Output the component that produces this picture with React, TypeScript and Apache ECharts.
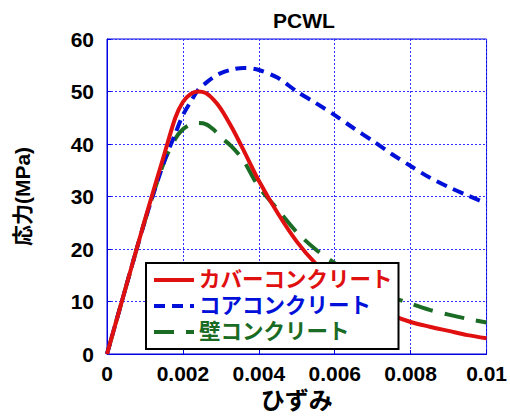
import React, { useEffect, useRef } from "react";
import * as echarts from "echarts";

const strain = [0, 0.0005, 0.001, 0.0015, 0.0018, 0.002, 0.0022, 0.0024, 0.0026, 0.0028, 0.003, 0.0033, 0.0036, 0.004, 0.0045, 0.005, 0.0055, 0.006, 0.0065, 0.007, 0.0075, 0.008, 0.0085, 0.009, 0.0095, 0.01];
const cover = [0, 12.8, 25.6, 37.8, 45.0, 48.0, 49.5, 50, 49.7, 48.5, 46.7, 43.0, 38.8, 33.0, 26.8, 21.4, 17.2, 14.0, 11.3, 9.1, 7.4, 6.1, 5.2, 4.4, 3.6, 3.0];
const core = [0, 12.8, 25.4, 36.5, 42, 45.5, 48, 50.3, 51.6, 52.7, 53.5, 54.2, 54.5, 54.1, 52.6, 50, 47.8, 45.5, 43, 40.6, 38.1, 35.8, 33.6, 31.8, 30.2, 28.7];
const wall = [0, 12.8, 25.4, 36.5, 41, 42.8, 43.7, 44, 43.8, 42.8, 41.3, 39.4, 36.8, 31.8, 27.5, 23.2, 19.9, 17.3, 15.1, 12.9, 10.9, 9.6, 8.4, 7.5, 6.7, 6.0];

const seriesNames = ["カバーコンクリート", "コアコンクリート", "壁コンクリート"];
const seriesColors = ["#e01010", "#0010d8", "#1a6b24"];
const xTicks = [0, 0.002, 0.004, 0.006, 0.008, 0.01];
const xTickLabels = ["0", "0.002", "0.004", "0.006", "0.008", "0.01"];

const latin = "'Liberation Sans', Arial, sans-serif";
const cjk = "'Liberation Sans', 'Noto Sans CJK JP', sans-serif";

export default function App() {
  const ref = useRef<HTMLDivElement>(null);
  useEffect(() => {
    if (!ref.current) return;
    const chart = echarts.init(ref.current, undefined, { renderer: "svg" });
    const values = [cover, core, wall];
    const dashes: any[] = ["solid", [11, 7], [20, 12]];
    chart.setOption({
      animation: false,
      backgroundColor: "#ffffff",
      title: {
        text: "PCWL",
        left: 299,
        textAlign: "center",
        top: 5,
        textStyle: { fontFamily: latin, fontWeight: "bold", fontSize: 21, color: "#000" },
      },
      grid: {
        left: 107,
        right: 19,
        top: 39,
        bottom: 64,
        show: true,
        borderColor: "#0000e0",
        borderWidth: 1,
      },
      legend: {
        orient: "vertical",
        left: 146,
        top: 263,
        padding: [6, 6, 6, 6],
        itemGap: 4,
        itemWidth: 40,
        itemHeight: 14,
        itemStyle: { opacity: 0 },
        lineStyle: { width: 4 },
        backgroundColor: "#ffffff",
        borderColor: "#000000",
        borderWidth: 2,
        borderRadius: 0,
        textStyle: { fontFamily: cjk, fontWeight: "bold", fontSize: 21.5, lineHeight: 22 },
        data: seriesNames.map((n, i) => ({ name: n, textStyle: { color: seriesColors[i] } })),
      },
      xAxis: {
        type: "value",
        min: 0,
        max: 0.01,
        interval: 0.002,
        name: "ひずみ",
        nameLocation: "middle",
        nameGap: 33,
        nameTextStyle: { fontFamily: cjk, fontWeight: "bold", fontSize: 24, color: "#000" },
        axisLine: { show: true, lineStyle: { color: "#0000e0", width: 1 } },
        axisTick: { show: true, inside: true, length: 4, lineStyle: { color: "#0000e0" } },
        axisLabel: {
          margin: 9,
          fontFamily: latin,
          fontWeight: "bold",
          fontSize: 21,
          color: "#000",
          formatter: (v: number) => {
            const idx = xTicks.findIndex((t) => Math.abs(t - v) < 1e-9);
            return idx >= 0 ? xTickLabels[idx] : "";
          },
        },
        splitLine: { show: true, lineStyle: { color: "#3030ff", type: [2, 2], width: 1 } },
      },
      yAxis: {
        type: "value",
        min: 0,
        max: 60,
        interval: 10,
        name: "応力(MPa)",
        nameLocation: "middle",
        nameGap: 74,
        nameTextStyle: { fontFamily: cjk, fontWeight: "bold", fontSize: 21, color: "#000" },
        axisLine: { show: true, lineStyle: { color: "#0000e0", width: 1 } },
        axisTick: { show: true, inside: true, length: 4, lineStyle: { color: "#0000e0" } },
        axisLabel: { margin: 13, fontFamily: latin, fontWeight: "bold", fontSize: 21, color: "#000" },
        splitLine: { show: true, lineStyle: { color: "#3030ff", type: [2, 2], width: 1 } },
      },
      series: seriesNames.map((n, i) => ({
        name: n,
        type: "line",
        data: strain.map((s, j) => [s, values[i][j]]),
        smooth: 0.3,
        symbol: "none",
        showSymbol: false,
        color: seriesColors[i],
        lineStyle: { color: seriesColors[i], width: 4, type: dashes[i] },
        z: 3 - i,
      })),
    });
    return () => chart.dispose();
  }, []);
  return <div ref={ref} style={{ position: "fixed", left: 0, top: 0, width: 510, height: 418 }} />;
}
